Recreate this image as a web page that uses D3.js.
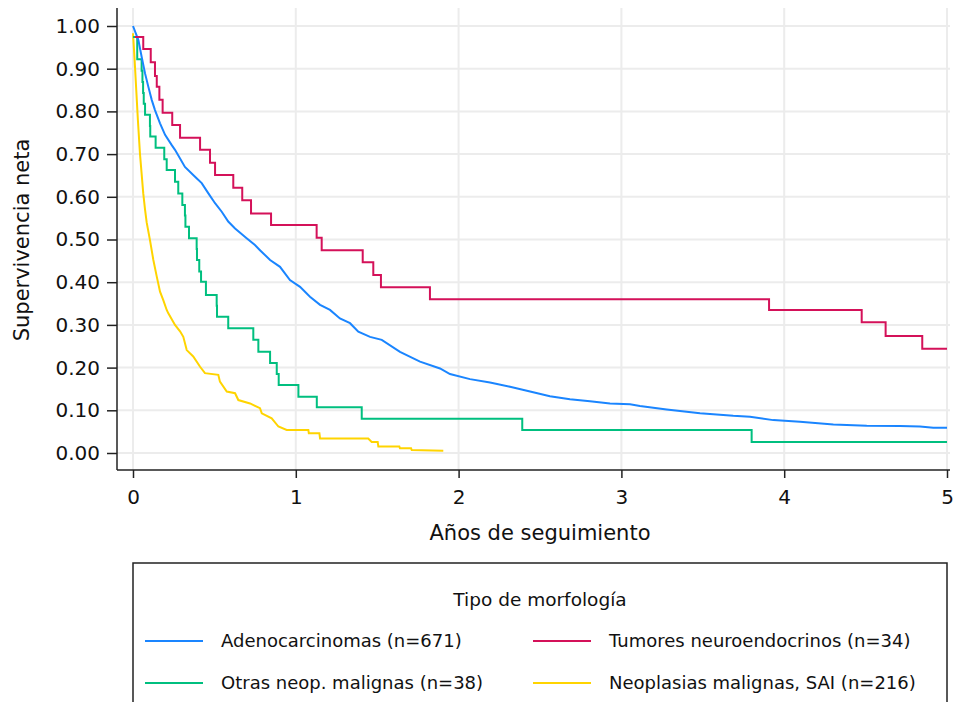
<!DOCTYPE html>
<html>
<head>
<meta charset="utf-8">
<script src="https://cdn.jsdelivr.net/npm/d3@7"></script>
<style>
  body { margin: 0; background: #fff; }
  svg { display: block; font-family: "DejaVu Sans", sans-serif; }
</style>
</head>
<body>
<div class="svg"></div>
<script>
// Kaplan-Meier style net survival curves
var xTicks = [0, 1, 2, 3, 4, 5];
var yTicks = [0, 0.1, 0.2, 0.3, 0.4, 0.5, 0.6, 0.7, 0.8, 0.9, 1.0];

var adenoT = [0, 0.033, 0.053, 0.074, 0.094, 0.115, 0.135, 0.166, 0.197, 0.238, 0.258, 0.319, 0.381, 0.422, 0.463, 0.504, 0.545, 0.585, 0.627, 0.698, 0.749, 0.780, 0.842, 0.903, 0.964, 1.026, 1.087, 1.149, 1.210, 1.271, 1.333, 1.384, 1.456, 1.528, 1.640, 1.763, 1.886, 1.947, 2.070, 2.193, 2.316, 2.439, 2.561, 2.684, 2.807, 2.930, 3.053, 3.114, 3.278, 3.483, 3.687, 3.790, 3.933, 4.097, 4.302, 4.507, 4.711, 4.834, 4.916, 5.0];
var adenoS = [1.0, 0.967, 0.928, 0.889, 0.858, 0.827, 0.803, 0.772, 0.745, 0.721, 0.710, 0.670, 0.647, 0.632, 0.608, 0.585, 0.565, 0.542, 0.526, 0.503, 0.487, 0.475, 0.452, 0.436, 0.405, 0.389, 0.366, 0.347, 0.335, 0.315, 0.304, 0.284, 0.272, 0.265, 0.237, 0.214, 0.198, 0.185, 0.173, 0.165, 0.155, 0.144, 0.133, 0.126, 0.121, 0.116, 0.114, 0.110, 0.102, 0.093, 0.087, 0.085, 0.077, 0.073, 0.067, 0.064, 0.063, 0.062, 0.059, 0.059];

var tumT = [0.012, 0.063, 0.109, 0.135, 0.146, 0.162, 0.182, 0.241, 0.289, 0.412, 0.473, 0.504, 0.616, 0.671, 0.725, 0.848, 1.128, 1.159, 1.411, 1.476, 1.523, 1.824, 3.907, 4.476, 4.623, 4.848, 5.0];
var tumS = [0.974, 0.946, 0.915, 0.883, 0.858, 0.827, 0.797, 0.768, 0.738, 0.710, 0.680, 0.651, 0.621, 0.592, 0.561, 0.534, 0.504, 0.475, 0.447, 0.417, 0.388, 0.360, 0.335, 0.306, 0.274, 0.244, 0.244];

var otrasT = [0, 0.026, 0.053, 0.058, 0.062, 0.066, 0.074, 0.104, 0.106, 0.139, 0.192, 0.207, 0.258, 0.278, 0.303, 0.319, 0.322, 0.344, 0.391, 0.393, 0.407, 0.418, 0.448, 0.514, 0.516, 0.585, 0.739, 0.770, 0.842, 0.883, 0.895, 1.016, 1.129, 1.405, 2.391, 3.800, 5.0];
var otrasS = [0.974, 0.922, 0.895, 0.869, 0.843, 0.818, 0.792, 0.766, 0.741, 0.715, 0.688, 0.663, 0.635, 0.608, 0.581, 0.556, 0.530, 0.503, 0.478, 0.452, 0.425, 0.401, 0.370, 0.345, 0.319, 0.292, 0.265, 0.237, 0.211, 0.185, 0.159, 0.132, 0.107, 0.080, 0.054, 0.026, 0.026];

var saiT = [0, 0.01, 0.02, 0.03, 0.043, 0.063, 0.074, 0.084, 0.104, 0.125, 0.146, 0.166, 0.186, 0.207, 0.217, 0.258, 0.289, 0.309, 0.330, 0.370, 0.412, 0.442, 0.524, 0.534, 0.576, 0.627, 0.647, 0.719, 0.780, 0.791, 0.852, 0.893, 0.944, 1.077, 1.080, 1.145, 1.149, 1.445, 1.466, 1.503, 1.507, 1.636, 1.640, 1.708, 1.712, 1.906];
var saiS = [0.983, 0.92, 0.85, 0.78, 0.70, 0.608, 0.57, 0.54, 0.499, 0.452, 0.413, 0.378, 0.358, 0.335, 0.327, 0.300, 0.285, 0.272, 0.241, 0.226, 0.202, 0.187, 0.183, 0.167, 0.144, 0.140, 0.124, 0.116, 0.105, 0.093, 0.081, 0.062, 0.054, 0.054, 0.046, 0.046, 0.034, 0.034, 0.026, 0.026, 0.015, 0.015, 0.011, 0.011, 0.007, 0.005];

var seriesNames = ["Adenocarcinomas (n=671)", "Tumores neuroendocrinos (n=34)", "Otras neop. malignas (n=38)", "Neoplasias malignas, SAI (n=216)"];
var seriesColors = ["#1a85ff", "#d41159", "#00bf7f", "#ffd400"];

function zipCurve(t, s) {
  return t.map(function (d, i) { return [d, s[i]]; });
}

var curves = [zipCurve(adenoT, adenoS), zipCurve(tumT, tumS), zipCurve(otrasT, otrasS), zipCurve(saiT, saiS)];
// the big groups have so many tiny steps they read as a line
var curveTypes = [d3.curveLinear, d3.curveStepAfter, d3.curveStepAfter, d3.curveLinear];
// draw order: yellow and green below, blue, red on top
var drawOrder = [3, 2, 0, 1];

var w = 953, h = 702;
var svg = d3.select('div.svg').append('svg').attr('width', w).attr('height', h);

var x = d3.scaleLinear().domain([0, 5]).range([133, 947]);
var y = d3.scaleLinear().domain([0, 1]).range([453, 26]);

var axisLeftX = 117, axisBottomY = 470, plotTop = 8, plotRight = 950;

// grid
svg.append('g').selectAll('line.hg')
  .data(yTicks).enter().append('line')
  .attr('x1', axisLeftX).attr('x2', plotRight)
  .attr('y1', function (d) { return y(d); }).attr('y2', function (d) { return y(d); })
  .style('stroke', '#ececec').style('stroke-width', 2);
svg.append('g').selectAll('line.vg')
  .data(xTicks).enter().append('line')
  .attr('y1', plotTop).attr('y2', axisBottomY)
  .attr('x1', function (d) { return x(d); }).attr('x2', function (d) { return x(d); })
  .style('stroke', '#ececec').style('stroke-width', 2);

// curves
drawOrder.forEach(function (k) {
  var line = d3.line()
    .x(function (d) { return x(d[0]); })
    .y(function (d) { return y(d[1]); })
    .curve(curveTypes[k]);
  svg.append('path')
    .datum(curves[k])
    .attr('d', line)
    .style('fill', 'none')
    .style('stroke', seriesColors[k])
    .style('stroke-width', 2);
});

// axes
var yAxis = d3.axisLeft(y).tickValues(yTicks).tickFormat(d3.format('.2f')).tickSize(10).tickPadding(7);
var gy = svg.append('g').attr('transform', 'translate(' + axisLeftX + ',0)').call(yAxis);
gy.select('.domain').remove();
gy.append('line').attr('x1', 0).attr('x2', 0).attr('y1', plotTop).attr('y2', axisBottomY)
  .style('stroke', '#222').style('stroke-width', 1.5);
gy.selectAll('.tick line').style('stroke', '#222').style('stroke-width', 1.5);
gy.selectAll('.tick text').style('font-size', '20px').style('fill', '#111')
  .style('font-family', '"DejaVu Sans", sans-serif');

var xAxis = d3.axisBottom(x).tickValues(xTicks).tickFormat(d3.format('d')).tickSize(8).tickPadding(12);
var gx = svg.append('g').attr('transform', 'translate(0,' + axisBottomY + ')').call(xAxis);
gx.select('.domain').remove();
gx.append('line').attr('x1', axisLeftX).attr('x2', plotRight).attr('y1', 0).attr('y2', 0)
  .style('stroke', '#222').style('stroke-width', 1.5);
gx.selectAll('.tick line').style('stroke', '#222').style('stroke-width', 1.5);
gx.selectAll('.tick text').style('font-size', '20px').style('fill', '#111')
  .style('font-family', '"DejaVu Sans", sans-serif');

// axis titles
svg.append('text')
  .attr('x', 540).attr('y', 540)
  .attr('text-anchor', 'middle')
  .style('font-size', '21px').style('fill', '#111')
  .text('Años de seguimiento');

svg.append('text')
  .attr('transform', 'translate(29,240) rotate(-90)')
  .attr('text-anchor', 'middle')
  .style('font-size', '21px').style('fill', '#111')
  .text('Supervivencia neta');

// legend
var lg = svg.append('g');
lg.append('rect')
  .attr('x', 133).attr('y', 563).attr('width', 814).attr('height', 170)
  .style('fill', '#fff').style('stroke', '#222').style('stroke-width', 1.5);
lg.append('text')
  .attr('x', 540).attr('y', 606)
  .attr('text-anchor', 'middle')
  .style('font-size', '18.5px').style('fill', '#111')
  .text('Tipo de morfología');

var legendPos = [[145, 641], [533, 641], [145, 683], [533, 683]];
seriesNames.forEach(function (name, i) {
  var p = legendPos[i];
  lg.append('line')
    .attr('x1', p[0]).attr('x2', p[0] + 58)
    .attr('y1', p[1]).attr('y2', p[1])
    .style('stroke', seriesColors[i]).style('stroke-width', 2);
  lg.append('text')
    .attr('x', p[0] + 76).attr('y', p[1] + 6)
    .style('font-size', '18px').style('fill', '#111')
    .text(name);
});
</script>
</body>
</html>
